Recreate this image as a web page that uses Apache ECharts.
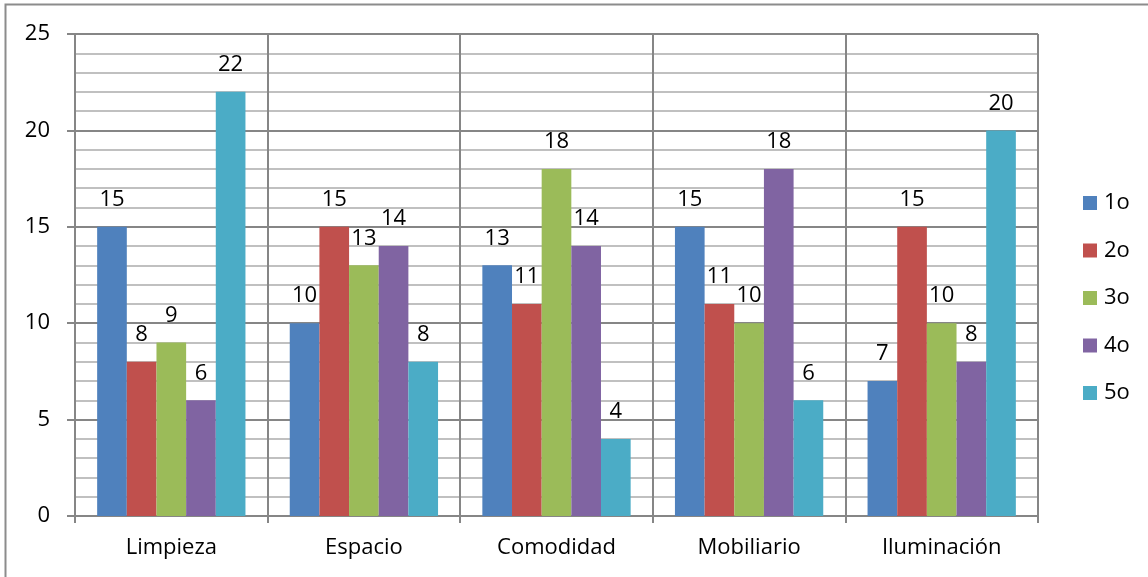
<!DOCTYPE html>
<html><head><meta charset="utf-8">
<script src="https://cdn.jsdelivr.net/npm/echarts@6/dist/echarts.min.js"></script>
<style>html,body{margin:0;padding:0;background:#fff}#c{width:1148px;height:577px}</style>
</head><body><div id="c"></div>
<script>
const categories = ['Limpieza','Espacio','Comodidad','Mobiliario','Iluminación'];
const seriesNames = ['1o','2o','3o','4o','5o'];
const s1 = [15,10,13,15,7];
const s2 = [8,15,11,11,15];
const s3 = [9,13,18,10,10];
const s4 = [6,14,14,18,8];
const s5 = [22,8,4,6,20];
const colors = ['#4F81BD','#C0504D','#9BBB59','#8064A2','#4BACC6'];
const values = [s1,s2,s3,s4,s5];
const font = '"Open Sans", sans-serif';
const chart = echarts.init(document.getElementById('c'));
chart.setOption({
  animation:false,
  color: colors,
  textStyle:{fontFamily:font},
  graphic:[{type:'rect',shape:{x:5.5,y:4.5,width:1300,height:700},style:{fill:'none',stroke:'#8c8c8c',lineWidth:2},silent:true,z:-1}],
  grid:{left:75,right:110,top:34,bottom:61,containLabel:false},
  legend:{orient:'vertical',left:1078,top:187,itemWidth:14,itemHeight:14,itemGap:25.5,icon:'rect',
    textStyle:{fontSize:22,color:'#000',fontFamily:font,padding:[0,0,0,2]},data:seriesNames},
  xAxis:{type:'category',data:categories,boundaryGap:true,
    axisLine:{lineStyle:{color:'#868686',width:2}},
    axisTick:{show:true,length:7,lineStyle:{color:'#868686',width:2}},
    axisLabel:{fontSize:22,color:'#000',margin:21,fontFamily:font},
    splitLine:{show:true,lineStyle:{color:'#868686',width:2}}},
  yAxis:{type:'value',min:0,max:25,interval:5,
    axisLine:{show:true,lineStyle:{color:'#868686',width:2}},
    axisTick:{show:true,length:8,lineStyle:{color:'#868686',width:2}},
    axisLabel:{fontSize:22,color:'#000',margin:25,fontFamily:font},
    splitLine:{show:true,lineStyle:{color:'#868686',width:2}},
    minorTick:{show:false,splitNumber:5},
    minorSplitLine:{show:true,lineStyle:{color:'#c0c0c0',width:2}}},
  series: seriesNames.map((n,i)=>({
    name:n,type:'bar',data:values[i],barGap:'0%',barCategoryGap:'23%',
    itemStyle:{color:colors[i]},
    label:{show:true,position:'top',distance:16,fontSize:22,color:'#000',fontFamily:font}
  }))
});
</script></body></html>
